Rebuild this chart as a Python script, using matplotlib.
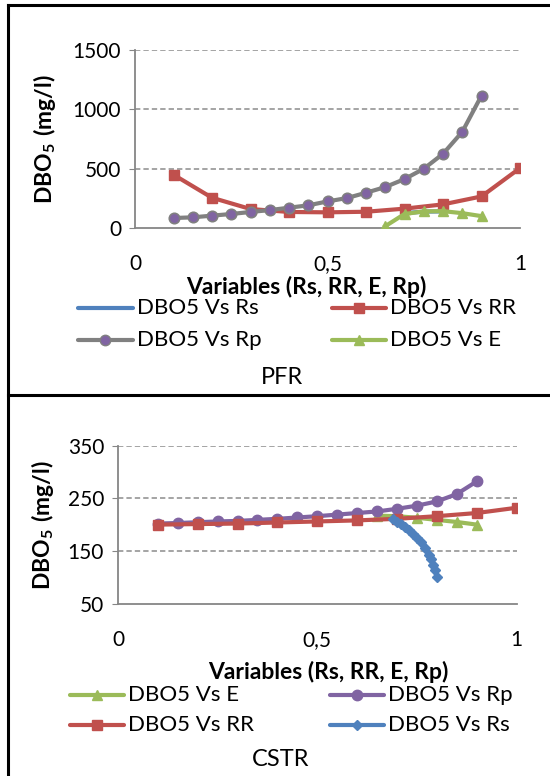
import matplotlib
matplotlib.use("Agg")
import matplotlib.pyplot as plt
from matplotlib.lines import Line2D

plt.rcParams['font.family'] = ['Lato', 'DejaVu Sans']
plt.rcParams['mathtext.fontset'] = 'custom'
plt.rcParams['mathtext.rm'] = 'Lato'
plt.rcParams['mathtext.bf'] = 'Lato:bold'

# ---------------- data: PFR ----------------
pfr_rp_x = [0.10, 0.15, 0.20, 0.25, 0.30, 0.35, 0.40, 0.45, 0.50, 0.55, 0.60, 0.65, 0.70, 0.75, 0.80, 0.85, 0.90]
pfr_rp_y = [84, 90, 104, 118, 135, 151, 171, 191, 224, 252, 297, 345, 412, 499, 625, 810, 1116]
pfr_rr_x = [0.1, 0.2, 0.3, 0.4, 0.5, 0.6, 0.7, 0.8, 0.9, 1.0]
pfr_rr_y = [449, 255, 160, 135, 132, 137, 163, 199, 266, 505]
pfr_e_x = [0.65, 0.70, 0.75, 0.80, 0.85, 0.90]
pfr_e_y = [15, 118, 140, 142, 125, 100]
pfr_rs_x = [0.70, 0.75, 0.80]
pfr_rs_y = [125, 138, 140]

# ---------------- data: CSTR ----------------
cstr_rp_x = [0.10, 0.15, 0.20, 0.25, 0.30, 0.35, 0.40, 0.45, 0.50, 0.55, 0.60, 0.65, 0.70, 0.75, 0.80, 0.85, 0.90]
cstr_rp_y = [202, 203, 204.5, 206, 207, 209, 211, 213.5, 216, 219, 222, 225, 230, 236, 244, 258, 282]
cstr_rr_x = [0.1, 0.2, 0.3, 0.4, 0.5, 0.6, 0.7, 0.8, 0.9, 1.0]
cstr_rr_y = [200, 201, 202, 204, 206, 208, 211, 216, 222, 232]
cstr_e_x = [0.65, 0.70, 0.75, 0.80, 0.85, 0.90]
cstr_e_y = [217, 216, 213, 209, 205, 200]
cstr_rs_x = [0.69, 0.70, 0.71, 0.72, 0.73, 0.74, 0.75, 0.76, 0.77, 0.78, 0.785, 0.79, 0.795, 0.80]
cstr_rs_y = [210, 205, 201, 196, 190, 183, 175, 166, 155, 142, 134, 124, 113, 100]

pfr_yticks = [0, 500, 1000, 1500]
cstr_yticks = [50, 150, 250, 350]
xticks = [0, 0.5, 1]
xticklabels = ["0", "0,5", "1"]

pfr_legend = ["DBO5 Vs Rs", "DBO5 Vs RR", "DBO5 Vs Rp", "DBO5 Vs E"]
cstr_legend = ["DBO5 Vs E", "DBO5 Vs Rp", "DBO5 Vs RR", "DBO5 Vs Rs"]

C_BLUE = "#4F81BD"
C_RED = "#C0504D"
C_GREEN = "#9BBB59"
C_PURPLE = "#8064A2"
C_GRAY = "#808080"

W, H = 550, 776
fig = plt.figure(figsize=(W / 100, H / 100), dpi=100)
fig.patch.set_facecolor("white")

def fx(px):
    return px / W

def fy(py):
    return 1 - py / H

# panel borders
fig.add_artist(Line2D([fx(8), 1.0], [fy(5), fy(5)], color="black", lw=2.2))
fig.add_artist(Line2D([fx(8), fx(8)], [fy(5), 0], color="black", lw=2.2))
fig.add_artist(Line2D([fx(8), 1.0], [fy(394.5), fy(394.5)], color="black", lw=2.2))

FS_TICK = 15
FS_LEG = 16
FS_LAB = 16.5
FS_TITLE = 17
LW = 3.0
MS = 7.5

def style_axes(ax, yticks):
    ax.set_xlim(0, 1)
    ax.set_ylim(yticks[0], yticks[-1])
    ax.set_yticks(yticks)
    ax.set_xticks(xticks)
    ax.set_xticklabels(xticklabels)
    for s in ["top", "right"]:
        ax.spines[s].set_visible(False)
    for s in ["left", "bottom"]:
        ax.spines[s].set_color("#868686")
        ax.spines[s].set_linewidth(1.3)
    ax.tick_params(axis="y", length=4, color="#868686", labelsize=FS_TICK, pad=6)
    ax.tick_params(axis="x", length=0, labelsize=FS_TICK, pad=19)
    for t in yticks[1:]:
        ax.axhline(t, color="#8C8C8C", lw=1.1, ls=(0, (3.5, 2)), zorder=0)

def legend_entry(x0, x1, y, label, color, marker=None, mfc=None, mec=None, ms=MS):
    fig.add_artist(Line2D([fx(x0), fx(x1)], [fy(y), fy(y)], color=color, lw=LW,
                          solid_capstyle="round"))
    if marker is not None:
        fig.add_artist(Line2D([fx((x0 + x1) / 2)], [fy(y)], color=color, lw=0,
                              marker=marker, ms=ms,
                              mfc=mfc if mfc else color, mec=mec if mec else color))
    fig.text(fx(x1 + 4), fy(y), label, ha="left", va="center", fontsize=FS_LEG)

# ---------------- PFR ----------------
ax1 = fig.add_axes([fx(135), fy(228), fx(520) - fx(135), fy(50) - fy(228)])
style_axes(ax1, pfr_yticks)
ax1.plot(pfr_rs_x, pfr_rs_y, color=C_BLUE, lw=LW, zorder=2)
ax1.plot(pfr_rr_x, pfr_rr_y, color=C_RED, lw=LW, marker="s", ms=MS, zorder=3)
ax1.plot(pfr_rp_x, pfr_rp_y, color=C_GRAY, lw=LW, marker="o", ms=MS,
         mfc=C_PURPLE, mec=C_GRAY, mew=1.2, zorder=4)
ax1.plot(pfr_e_x, pfr_e_y, color=C_GREEN, lw=LW, marker="^", ms=MS, zorder=5)

fig.text(fx(306), fy(287), "Variables (Rs, RR, E, Rp)", ha="center", va="center",
         fontsize=FS_LAB, fontweight="bold")
fig.text(fx(44), fy(139), r"$\mathbf{DBO_5\ (mg/l)}$", ha="center", va="center",
         rotation=90, fontsize=FS_LAB)
fig.text(fx(282), fy(377), "PFR", ha="center", va="center", fontsize=FS_TITLE)

legend_entry(78, 133, 308, pfr_legend[0], C_BLUE)
legend_entry(332, 386, 308, pfr_legend[1], C_RED, marker="s")
legend_entry(78, 133, 340, pfr_legend[2], C_GRAY, marker="o", mfc=C_PURPLE, mec=C_GRAY)
legend_entry(332, 386, 340, pfr_legend[3], C_GREEN, marker="^")

# ---------------- CSTR ----------------
ax2 = fig.add_axes([fx(118), fy(603.5), fx(516.5) - fx(118), fy(445.7) - fy(603.5)])
style_axes(ax2, cstr_yticks)
ax2.plot(cstr_e_x, cstr_e_y, color=C_GREEN, lw=LW, marker="^", ms=MS, zorder=2)
ax2.plot(cstr_rp_x, cstr_rp_y, color=C_PURPLE, lw=LW, marker="o", ms=MS, zorder=3)
ax2.plot(cstr_rr_x, cstr_rr_y, color=C_RED, lw=LW, marker="s", ms=MS, zorder=4)
ax2.plot(cstr_rs_x, cstr_rs_y, color=C_BLUE, lw=LW, marker="D", ms=5, zorder=5)

fig.text(fx(328), fy(672), "Variables (Rs, RR, E, Rp)", ha="center", va="center",
         fontsize=FS_LAB, fontweight="bold")
fig.text(fx(42), fy(525), r"$\mathbf{DBO_5\ (mg/l)}$", ha="center", va="center",
         rotation=90, fontsize=FS_LAB)
fig.text(fx(281), fy(760), "CSTR", ha="center", va="center", fontsize=FS_TITLE)

legend_entry(70, 124, 695, cstr_legend[0], C_GREEN, marker="^")
legend_entry(330, 384, 695, cstr_legend[1], C_PURPLE, marker="o")
legend_entry(70, 124, 725, cstr_legend[2], C_RED, marker="s")
legend_entry(330, 384, 725, cstr_legend[3], C_BLUE, marker="D", ms=5)

fig.savefig("out.png", dpi=100, facecolor="white")
